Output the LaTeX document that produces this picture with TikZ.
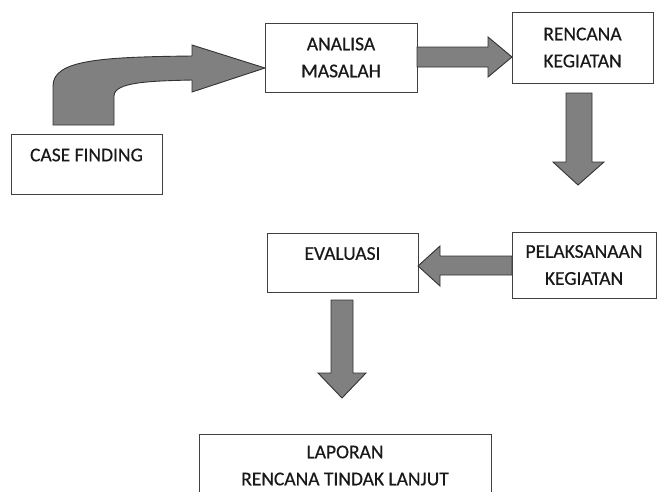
\documentclass[tikz,border=0pt]{standalone}
\usepackage{fontspec}
\setmainfont{Carlito}[UprightFeatures={FakeBold=0.5}]
\usetikzlibrary{calc}

\tikzset{
 box/.style={draw=black!75, line width=0.9pt, inner sep=0pt, outer sep=0pt,
   align=center, text=black!90, font=\fontsize{19.5}{27}\selectfont},
 onetop/.style={text height=12.6pt, text depth=18pt},
 blk/.style={fill=black!50, draw=black!80, line width=0.9pt, line join=miter}
}

\begin{document}
\begin{tikzpicture}[x=1pt,y=-1pt]
 \useasboundingbox (0,0) rectangle (657,491);

 % boxes
 \node[box, onetop, minimum width=151, minimum height=60] (cf) at (86.5,164) {CASE FINDING};
 \node[box, minimum width=152, minimum height=69] (am) at (341,57.5) {ANALISA\\MASALAH};
 \node[box, minimum width=141, minimum height=71] (rk) at (582.5,47.5) {RENCANA\\KEGIATAN};
 \node[box, onetop, minimum width=151, minimum height=59] (ev) at (342.5,262.5) {EVALUASI};
 \node[box, minimum width=144, minimum height=66] (pk) at (584,265) {PELAKSANAAN\\KEGIATAN};
 \node[box, minimum width=292, minimum height=63] (lp) at (345,465.5) {LAPORAN\\RENCANA TINDAK LANJUT};

 % curved arrow case finding -> analisa
 \draw[blk] (53,125) -- (53,86) .. controls (53,60) and (100,57) .. (192,56)
   -- (192,45) -- (am.west |- 0,68) -- (192,92) -- (192,80)
   .. controls (150,81) and (114,82) .. (114,96) -- (114,125) -- cycle;

 % analisa -> rencana
 \draw[blk] (am.east |- 0,47) -- (488,47) -- (488,37) -- (rk.west |- 0,57)
   -- (488,77) -- (488,67) -- (am.east |- 0,67) -- cycle;

 % rencana -> pelaksanaan
 \draw[blk] (566,93) -- (566,162) -- (553,162) -- (578,185) -- (604,162)
   -- (592,162) -- (592,93) -- cycle;

 % pelaksanaan -> evaluasi
 \draw[blk] (pk.west |- 0,256) -- (440,256) -- (440,246) -- (ev.east |- 0,266)
   -- (440,286) -- (440,275) -- (pk.west |- 0,275) -- cycle;

 % evaluasi -> laporan
 \draw[blk] (331,300) -- (331,373) -- (318,373) -- (342,398) -- (366,373)
   -- (353,373) -- (353,300) -- cycle;

\end{tikzpicture}
\end{document}
